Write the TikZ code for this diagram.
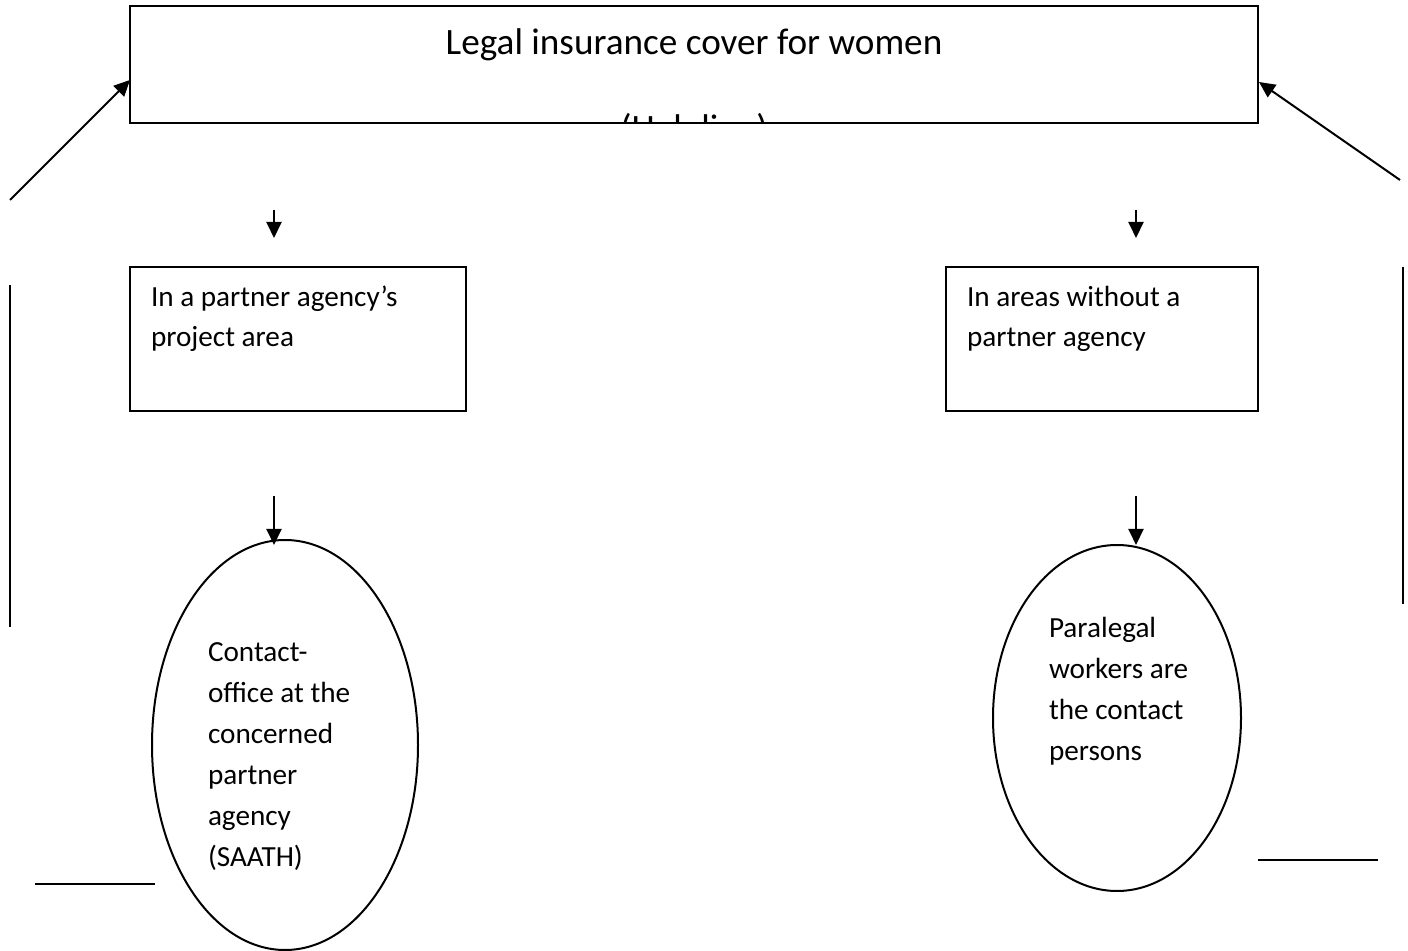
\documentclass[tikz,border=0pt]{standalone}
\usepackage{fontspec}
\setmainfont{Carlito}
\usetikzlibrary{arrows.meta,shapes.geometric}
\begin{document}
\begin{tikzpicture}[x=0.5pt,y=-0.5pt,
  line width=1pt,
  arr/.style={-{Triangle[length=8pt,width=7.5pt]}},
  boxtxt/.style={anchor=north west,inner sep=0pt,align=left,font=\fontsize{14.6}{20}\selectfont},
  elltxt/.style={anchor=north west,inner sep=0pt,align=left,font=\fontsize{14.6}{20.5}\selectfont},
  oval/.style={draw,ellipse,inner sep=0pt}]
\useasboundingbox (0,0) rectangle (1408,951);
% top box
\draw (130,6) rectangle (1258,123);
\node[anchor=base,inner sep=0pt,font=\fontsize{18.6}{20}\selectfont] (title) at (694,55) {Legal insurance cover for women};
\begin{scope}
\clip (130,6) rectangle (1258,122);
\node[anchor=base,inner sep=0pt,font=\fontsize{18.6}{20}\selectfont] (help) at (694,141) {(Helpline)};
\end{scope}
\coordinate (topL) at (130,80);
\coordinate (topR) at (1259,82);
\coordinate (sL) at (10,200);
\coordinate (sR) at (1400,180);
\draw[arr] (sL) -- (topL);
\draw[arr] (sR) -- (topR);
% small arrows
\coordinate (a1s) at (274,210);
\coordinate (a1e) at (274,238);
\coordinate (a2s) at (1136,210);
\coordinate (a2e) at (1136,238);
\draw[arr] (a1s) -- (a1e);
\draw[arr] (a2s) -- (a2e);
% boxes
\draw (130,267) rectangle (466,411);
\draw (946,267) rectangle (1258,411);
\node[boxtxt] (lt) at (150,285) {In a partner agency’s\\project area};
\node[boxtxt] (rt) at (966,285) {In areas without a\\partner agency};
\coordinate (lb) at (274,496);
\coordinate (rb) at (1136,496);
\coordinate (le) at (274,545);
\coordinate (re) at (1136,545);
% ellipses
\node[oval,minimum width=133pt,minimum height=205pt] (el) at (285,745) {};
\node[oval,minimum width=124pt,minimum height=173pt] (er) at (1117,718) {};
\draw[arr] (lb) -- (le);
\draw[arr] (rb) -- (re);
\node[elltxt] (elt) at (207,642) {Contact-\\office at the\\concerned\\partner\\agency\\(SAATH)};
\node[elltxt] (ert) at (1048,616) {Paralegal\\workers are\\the contact\\persons};
% side lines
\coordinate (v1a) at (10,285);
\coordinate (v1b) at (10,627);
\coordinate (v2a) at (1403,267);
\coordinate (v2b) at (1403,604);
\draw (v1a) -- (v1b);
\draw (v2a) -- (v2b);
\coordinate (h1a) at (35,884);
\coordinate (h1b) at (155,884);
\coordinate (h2a) at (1258,860);
\coordinate (h2b) at (1378,860);
\draw (h1a) -- (h1b);
\draw (h2a) -- (h2b);
\end{tikzpicture}
\end{document}
